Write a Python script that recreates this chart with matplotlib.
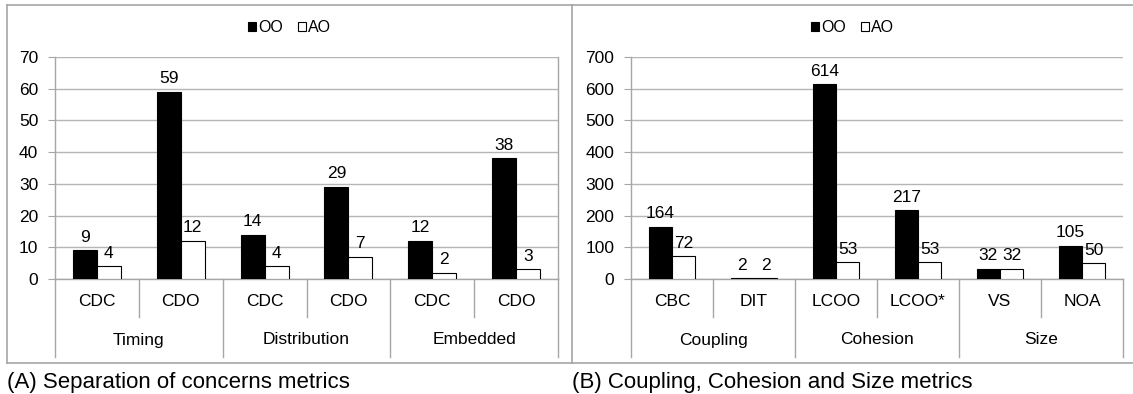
import matplotlib
matplotlib.use("Agg")
import matplotlib.pyplot as plt
from matplotlib.patches import Patch
from matplotlib.lines import Line2D
from matplotlib.transforms import blended_transform_factory
import numpy as np

plt.rcParams['font.family'] = ['Liberation Sans', 'DejaVu Sans']

# ---- data ----
a_metrics = ["CDC", "CDO", "CDC", "CDO", "CDC", "CDO"]
a_groups = ["Timing", "Distribution", "Embedded"]
a_oo = [9, 59, 14, 29, 12, 38]
a_ao = [4, 12, 4, 7, 2, 3]
a_ticks = [0, 10, 20, 30, 40, 50, 60, 70]
a_caption = "(A) Separation of concerns metrics"

b_metrics = ["CBC", "DIT", "LCOO", "LCOO*", "VS", "NOA"]
b_groups = ["Coupling", "Cohesion", "Size"]
b_oo = [164, 2, 614, 217, 32, 105]
b_ao = [72, 2, 53, 53, 32, 50]
b_ticks = [0, 100, 200, 300, 400, 500, 600, 700]
b_caption = "(B) Coupling, Cohesion and Size metrics"

series_names = ["OO", "AO"]

W, H = 1133, 394
fig = plt.figure(figsize=(W / 100, H / 100), dpi=100)

GRAY = "#a6a6a6"
GRID = "#b5b5b5"
FS = 12.5
LFS = 11.5


def fx(px):
    return px / W


def fy(py):
    return 1 - py / H


def panel(x0, x1, px_left, px_right, metrics, groups, oo, ao, ticks, caption,
          right_spine):
    ax = fig.add_axes([fx(px_left), fy(279), fx(px_right) - fx(px_left), fy(57) - fy(279)])
    n = len(metrics)
    x = np.arange(n)
    bw = 0.286
    b1 = ax.bar(x - bw / 2, oo, bw, color="black", edgecolor="black", linewidth=0.8, zorder=3)
    b2 = ax.bar(x + bw / 2, ao, bw, color="white", edgecolor="black", linewidth=0.8, zorder=3)
    for bars, vals in ((b1, oo), (b2, ao)):
        for r, v in zip(bars, vals):
            ax.annotate(str(v), (r.get_x() + r.get_width() / 2, r.get_height()),
                        xytext=(0, 4), textcoords="offset points",
                        ha="center", va="bottom", fontsize=FS, zorder=4)
    ax.set_xlim(-0.5, n - 0.5)
    ax.set_ylim(ticks[0], ticks[-1])
    ax.set_yticks(ticks)
    ax.set_xticks([])
    ax.yaxis.grid(True, color=GRID, linewidth=1)
    ax.set_axisbelow(True)
    ax.tick_params(axis="y", length=5, color=GRAY, pad=7, labelsize=FS)
    ax.spines["top"].set_visible(False)
    ax.spines["right"].set_visible(right_spine)
    for s in ("left", "bottom", "right"):
        ax.spines[s].set_color(GRAY)
        ax.spines[s].set_linewidth(1)

    tr = blended_transform_factory(ax.transData, fig.transFigure)
    for i, m in enumerate(metrics):
        ax.text(i, fy(301), m, transform=tr, ha="center", va="center", fontsize=FS)
    per = n // len(groups)
    for g, name in enumerate(groups):
        ax.text(g * per + (per - 1) / 2, fy(340), name, transform=tr,
                ha="center", va="center", fontsize=FS)
    for k in range(n + 1):
        bottom = 357 if k % per == 0 else 317
        ax.add_line(Line2D([k - 0.5, k - 0.5], [fy(279), fy(bottom)], transform=tr,
                           color=GRAY, linewidth=1, clip_on=False))

    # panel frame
    fig.add_artist(Line2D([fx(x0), fx(x1)], [fy(5), fy(5)], color=GRAY, lw=1.2))
    fig.add_artist(Line2D([fx(x0), fx(x1)], [fy(363), fy(363)], color=GRAY, lw=1.2))
    fig.add_artist(Line2D([fx(x0), fx(x0)], [fy(5), fy(363)], color=GRAY, lw=1.2))

    handles = [Patch(facecolor="black", edgecolor="black", linewidth=0.8),
               Patch(facecolor="white", edgecolor="black", linewidth=0.8)]
    fig.legend(handles, series_names, loc="center",
               bbox_to_anchor=(fx((x0 + x1) / 2), fy(28)), ncol=2, frameon=False,
               handlelength=0.5, handleheight=0.5, handletextpad=0.15,
               columnspacing=0.9, fontsize=LFS, borderpad=0)

    fig.text(fx(x0), fy(388), caption, ha="left", va="baseline", fontsize=16)
    return ax


panel(7, 572, 55, 558, a_metrics, a_groups, a_oo, a_ao, a_ticks, a_caption, True)
panel(572, 1133, 631, 1123, b_metrics, b_groups, b_oo, b_ao, b_ticks, b_caption, False)

fig.savefig("out.png", dpi=100)
